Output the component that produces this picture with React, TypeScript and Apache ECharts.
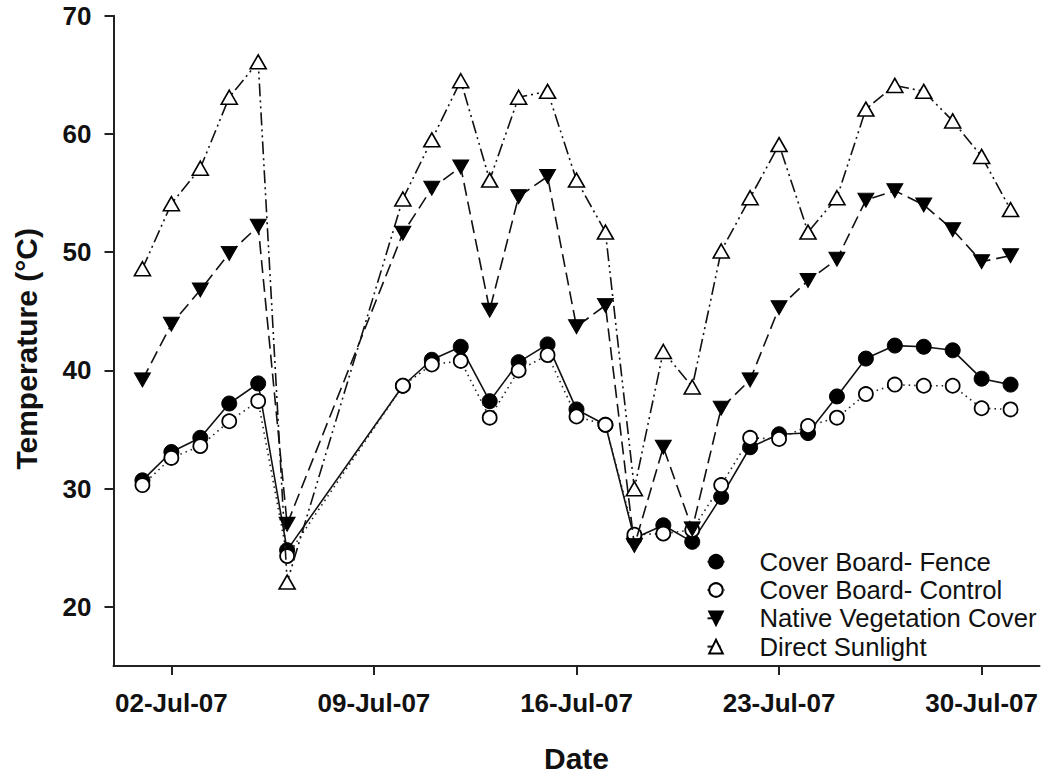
import React, { useEffect, useRef } from "react";
import * as echarts from "echarts";

// Day of July 2007 for each measurement (0 = 30-Jun, 32 = 01-Aug)
const days = [1, 2, 3, 4, 5, 6, 10, 11, 12, 13, 14, 15, 16, 17, 18, 19, 20, 21, 22, 23, 24, 25, 26, 27, 28, 29, 30, 31];

const fence = [30.7, 33.1, 34.3, 37.2, 38.9, 24.8, 38.7, 40.9, 42.0, 37.4, 40.7, 42.2, 36.7, 35.4, 25.8, 26.9, 25.5, 29.3, 33.5, 34.6, 34.7, 37.8, 41.0, 42.1, 42.0, 41.7, 39.3, 38.8];
const control = [30.3, 32.6, 33.6, 35.7, 37.4, 24.3, 38.7, 40.5, 40.8, 36.0, 40.0, 41.3, 36.1, 35.4, 26.1, 26.2, 26.5, 30.3, 34.3, 34.2, 35.3, 36.0, 38.0, 38.8, 38.7, 38.7, 36.8, 36.7];
const native = [39.2, 43.9, 46.8, 49.9, 52.2, 27.0, 51.6, 55.4, 57.2, 45.1, 54.7, 56.4, 43.7, 45.5, 25.2, 33.5, 26.6, 36.8, 39.2, 45.3, 47.6, 49.4, 54.4, 55.2, 54.0, 51.9, 49.2, 49.7];
const sunlight = [48.6, 54.1, 57.1, 63.1, 66.1, 22.1, 54.5, 59.5, 64.5, 56.1, 63.1, 63.6, 56.1, 51.7, 30.0, 41.6, 38.6, 50.1, 54.6, 59.1, 51.7, 54.6, 62.1, 64.1, 63.6, 61.1, 58.1, 53.6];

const xTickDays = [2, 9, 16, 23, 30];
const xTickLabels = ["02-Jul-07", "09-Jul-07", "16-Jul-07", "23-Jul-07", "30-Jul-07"];
const yTicks = [20, 30, 40, 50, 60, 70];

const seriesNames = ["Cover Board- Fence", "Cover Board- Control", "Native Vegetation Cover", "Direct Sunlight"];

const FONT = "'Liberation Sans', Arial, Helvetica, sans-serif";

export default function App() {
  const ref = useRef<HTMLDivElement>(null);

  useEffect(() => {
    if (!ref.current) return;
    const chart = echarts.init(ref.current, null, { renderer: "svg" });
    const pair = (vals: number[]) => days.map((d, i) => [d, vals[i]]);
    const downTri = "path://M0,0L16,0L8,14Z";

    chart.setOption({
      animation: false,
      backgroundColor: "#ffffff",
      grid: {
        left: 113.5,
        right: 2.5,
        top: 15.7,
        bottom: 107,
        containLabel: false,
        outerBoundsMode: "none",
      },
      legend: {
        orient: "vertical",
        left: 706.5,
        top: 547.7,
        padding: 0,
        itemWidth: 17,
        itemHeight: 17,
        itemGap: 0.3,
        selectedMode: false,
        data: seriesNames,
        textStyle: {
          fontFamily: FONT,
          fontSize: 25.7,
          color: "#111",
          lineHeight: 28,
          padding: [0, 0, 0, 30],
        },
      },
      xAxis: {
        type: "value",
        min: 0,
        max: 32,
        name: "Date",
        nameLocation: "middle",
        nameGap: 77,
        nameTextStyle: { fontFamily: FONT, fontSize: 30, fontWeight: "bold", color: "#111" },
        splitLine: { show: false },
        axisLine: { show: true, onZero: false, lineStyle: { color: "#222", width: 2 } },
        axisTick: { show: true, length: 9, lineStyle: { color: "#222", width: 2 }, customValues: xTickDays },
        axisLabel: {
          customValues: xTickDays,
          margin: 24,
          fontFamily: FONT,
          fontSize: 26,
          fontWeight: "bold",
          color: "#111",
          formatter: (v: number) => {
            const idx = xTickDays.indexOf(Math.round(v));
            return idx >= 0 ? xTickLabels[idx] : "";
          },
        },
      },
      yAxis: {
        type: "value",
        min: 15,
        max: 70,
        name: "Temperature (°C)",
        nameLocation: "middle",
        nameGap: 72,
        nameTextStyle: {
          fontFamily: FONT,
          fontSize: 30,
          fontWeight: "bold",
          color: "#111",
          padding: [0, 16, 0, 0],
        },
        splitLine: { show: false },
        axisLine: { show: true, onZero: false, lineStyle: { color: "#222", width: 2 } },
        axisTick: { show: true, length: 9, lineStyle: { color: "#222", width: 2 }, customValues: yTicks },
        axisLabel: {
          customValues: yTicks,
          margin: 22,
          fontFamily: FONT,
          fontSize: 26,
          fontWeight: "bold",
          color: "#111",
        },
      },
      series: [
        {
          name: seriesNames[0],
          type: "line",
          data: pair(fence),
          symbol: "circle",
          symbolSize: 15,
          showAllSymbol: true,
          itemStyle: { color: "#000", borderColor: "#000", borderWidth: 1 },
          lineStyle: { color: "#111", width: 1.6, type: "solid" },
          emphasis: { disabled: true },
          z: 2,
        },
        {
          name: seriesNames[1],
          type: "line",
          data: pair(control),
          symbol: "circle",
          symbolSize: 14,
          showAllSymbol: true,
          itemStyle: { color: "#fff", borderColor: "#000", borderWidth: 1.8 },
          lineStyle: { color: "#222", width: 1.6, type: [1.5, 4] },
          emphasis: { disabled: true },
          z: 3,
        },
        {
          name: seriesNames[2],
          type: "line",
          data: pair(native),
          symbol: downTri,
          symbolSize: [16, 14],
          showAllSymbol: true,
          itemStyle: { color: "#000", borderColor: "#000", borderWidth: 1 },
          lineStyle: { color: "#111", width: 1.6, type: [13, 6] },
          emphasis: { disabled: true },
          z: 4,
        },
        {
          name: seriesNames[3],
          type: "line",
          data: pair(sunlight),
          symbol: "triangle",
          symbolSize: [16, 14],
          showAllSymbol: true,
          itemStyle: { color: "#fff", borderColor: "#000", borderWidth: 1.6 },
          lineStyle: { color: "#111", width: 1.6, type: [13, 4, 2, 4, 2, 4] },
          emphasis: { disabled: true },
          z: 5,
        },
      ],
    });
    return () => chart.dispose();
  }, []);

  return (
    <div
      ref={ref}
      style={{ position: "absolute", left: 0, top: 0, width: 1042, height: 773, background: "#fff" }}
    />
  );
}
